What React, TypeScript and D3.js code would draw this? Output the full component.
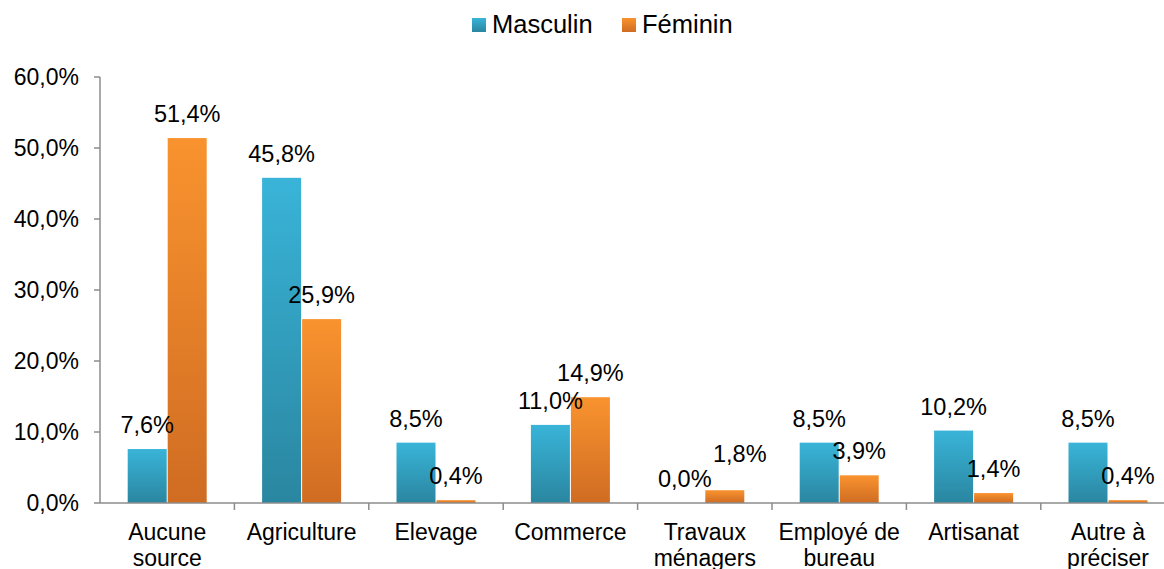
import React from "react";
import { scaleBand, scaleLinear } from "d3";

const categories = [
  ["Aucune", "source"],
  ["Agriculture"],
  ["Elevage"],
  ["Commerce"],
  ["Travaux", "ménagers"],
  ["Employé de", "bureau"],
  ["Artisanat"],
  ["Autre à", "préciser"],
];
const seriesNames = ["Masculin", "Féminin"];
const masculin = [7.6, 45.8, 8.5, 11.0, 0.0, 8.5, 10.2, 8.5];
const feminin = [51.4, 25.9, 0.4, 14.9, 1.8, 3.9, 1.4, 0.4];
const yTicks = [0, 10, 20, 30, 40, 50, 60];

const fmt = (v: number) => v.toFixed(1).replace(".", ",") + "%";

const width = 1164;
const height = 569;
const left = 100;
const bandW = 134.4;
const y0 = 503;
const yTop = 77;
const font = "'Liberation Sans', Arial, sans-serif";
const axisColor = "#8c8c8c";

const App = () => {
  const keys = categories.map((c) => c.join(" "));
  const xScale = scaleBand().domain(keys).range([left, left + bandW * keys.length]);
  const inner = scaleBand().domain(seriesNames).range([0, 80]);
  const groupOff = (xScale.bandwidth() - 80) / 2;
  const yScale = scaleLinear().domain([0, 60]).range([y0, yTop]);
  const series = [masculin, feminin];
  const grads = ["gBlue", "gOrange"];

  // label placement: above bar, nudged up/right if it would collide with its neighbour
  const labels = keys.map((k, i) => {
    const pos = series.map((s, j) => ({
      x: (xScale(k) as number) + groupOff + (inner(seriesNames[j]) as number) + inner.bandwidth() / 2,
      y: yScale(s[i]) - 16,
      text: fmt(s[i]),
    }));
    const [a, b] = pos;
    if (Math.abs(a.y - b.y) < 22 && b.x - a.x < 60) {
      b.x += 15;
      b.y = Math.min(b.y, a.y) - 12;
    }
    return pos;
  });

  return (
    <svg
      width={width}
      height={height}
      style={{ position: "absolute", left: 0, top: 0, background: "#fff" }}
      fontFamily={font}
    >
      <defs>
        <linearGradient id="gBlue" x1="0" y1="0" x2="0" y2="1">
          <stop offset="0" stopColor="#39b4d8" />
          <stop offset="1" stopColor="#2a86a0" />
        </linearGradient>
        <linearGradient id="gOrange" x1="0" y1="0" x2="0" y2="1">
          <stop offset="0" stopColor="#f9932f" />
          <stop offset="1" stopColor="#cf6c22" />
        </linearGradient>
      </defs>

      {/* legend */}
      <rect x={472} y={18} width={14} height={14} fill="url(#gBlue)" />
      <text x={492} y={33} fontSize={25.5} fill="#000">{seriesNames[0]}</text>
      <rect x={622} y={18} width={14} height={14} fill="url(#gOrange)" />
      <text x={642} y={33} fontSize={25.5} fill="#000">{seriesNames[1]}</text>

      {/* y axis */}
      <line x1={left} x2={left} y1={yTop} y2={y0} stroke={axisColor} strokeWidth={1.5} />
      {yTicks.map((t) => (
        <g key={t}>
          <line x1={left - 6} x2={left} y1={yScale(t)} y2={yScale(t)} stroke={axisColor} strokeWidth={1.5} />
          <text x={79} y={yScale(t)} dy="0.36em" textAnchor="end" fontSize={23}>
            {fmt(t)}
          </text>
        </g>
      ))}

      {/* bars */}
      {keys.map((k, i) => (
        <g key={k} transform={`translate(${(xScale(k) as number) + groupOff},0)`}>
          {series.map((s, j) => (
            <rect
              key={j}
              x={(inner(seriesNames[j]) as number) + 0.5}
              y={yScale(s[i])}
              width={inner.bandwidth() - 1}
              height={y0 - yScale(s[i])}
              fill={`url(#${grads[j]})`}
            />
          ))}
        </g>
      ))}

      {/* x axis */}
      <line x1={left} x2={left + bandW * keys.length} y1={y0} y2={y0} stroke={axisColor} strokeWidth={1.5} />
      {keys.map((k, i) => (
        <line
          key={"t" + i}
          x1={(xScale(k) as number) + bandW}
          x2={(xScale(k) as number) + bandW}
          y1={y0}
          y2={y0 + 7}
          stroke={axisColor}
          strokeWidth={1.5}
        />
      ))}

      {/* category labels */}
      {categories.map((lines, i) => (
        <text
          key={"c" + i}
          x={(xScale(keys[i]) as number) + bandW / 2}
          y={540}
          textAnchor="middle"
          fontSize={23}
        >
          {lines.map((l, li) => (
            <tspan key={li} x={(xScale(keys[i]) as number) + bandW / 2} dy={li === 0 ? 0 : 26}>
              {l}
            </tspan>
          ))}
        </text>
      ))}

      {/* data labels */}
      {labels.map((pair, i) =>
        pair.map((l, j) => (
          <text key={i + "-" + j} x={l.x} y={l.y} textAnchor="middle" fontSize={23.5}>
            {l.text}
          </text>
        ))
      )}
    </svg>
  );
};

export default App;
